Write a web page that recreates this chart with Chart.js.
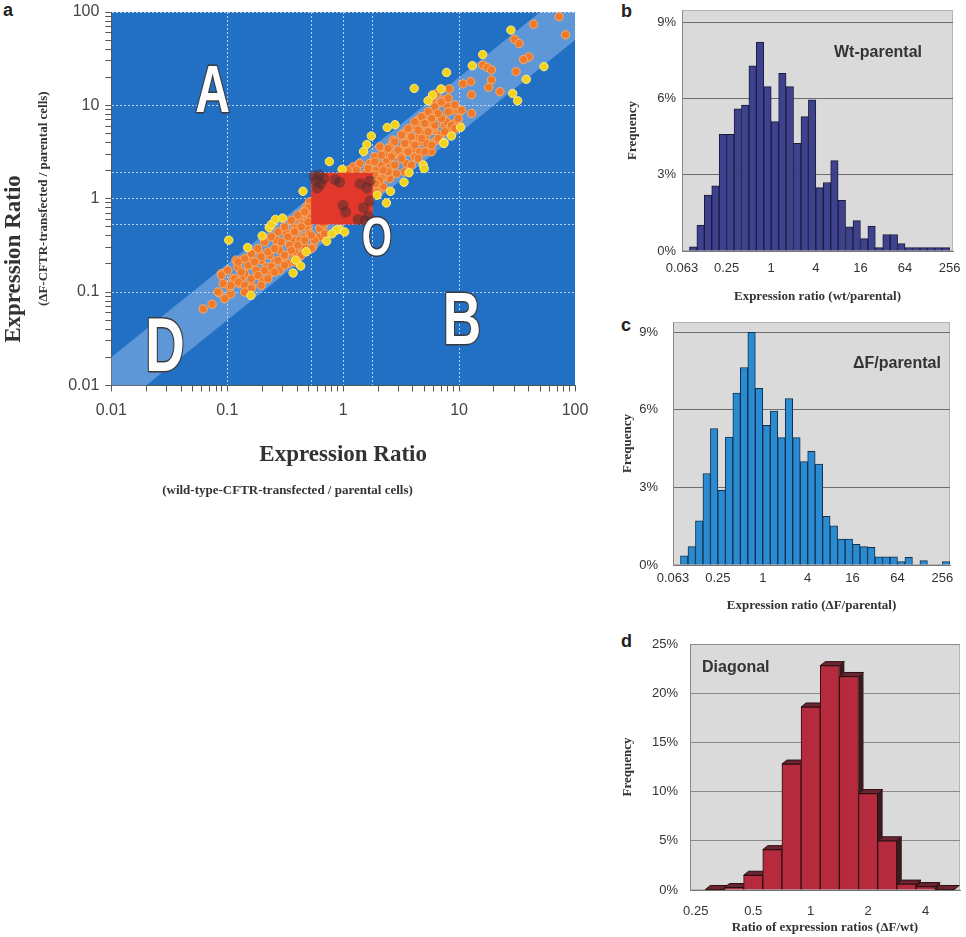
<!DOCTYPE html>
<html>
<head>
<meta charset="utf-8">
<script src="https://cdn.jsdelivr.net/npm/chart.js@4.4.0/dist/chart.umd.min.js"></script>
<style>
  body { margin: 0; background: #fff; width: 966px; height: 937px; position: relative; overflow: hidden; }
  canvas { position: absolute; }
  .tag { position: absolute; font: bold 18px 'Liberation Sans', Arial, sans-serif; color: #222; line-height: 1; }
  .cap { position: absolute; font: bold 16px 'Liberation Sans', Arial, sans-serif; color: #333; line-height: 1; white-space: nowrap; }
</style>
</head>
<body>
<div class="tag" style="left:3px;top:1px">a</div>
<div class="tag" style="left:621px;top:2px">b</div>
<div class="tag" style="left:621px;top:316px">c</div>
<div class="tag" style="left:621px;top:632px">d</div>

<canvas id="scatterChart" width="605" height="510" style="left:0;top:0"></canvas>
<canvas id="wtChart" width="346" height="310" style="left:620px;top:0"></canvas>
<canvas id="dfChart" width="346" height="310" style="left:620px;top:310px"></canvas>
<canvas id="diagChart" width="346" height="317" style="left:620px;top:620px"></canvas>

<div class="cap" style="left:834px;top:44px">Wt-parental</div>
<div class="cap" style="left:853px;top:355px">ΔF/parental</div>
<div class="cap" style="left:702px;top:659px">Diagonal</div>

<script>
// ---- panel a: scatter of expression ratios (wt on x, deltaF on y) ----
const axisTicks = [0.01, 0.1, 1, 10, 100];
const axisTickLabels = ['0.01', '0.1', '1', '10', '100'];
const squareX = [0.53, 1.8];   // unchanged-gene box, also dotted guide lines
const squareY = [0.53, 1.9];

// points inside the two-fold diagonal band (orange)
const bandPoints = [
  [73, 89], [83, 57], [44, 74], [30, 51], [33, 46], [40, 33], [36, 31], [31, 23], [16, 27], [17.5, 25.5],
  [19, 24], [12.6, 18], [10.8, 17], [19, 18.7], [18, 15.6], [22.5, 14], [12.8, 13], [8.2, 15], [10.3, 8.7],
  [12.8, 8.2], [10.1, 6.1],
  [3.3, 4.6], [3.6, 5.0], [4.0, 5.9], [4.4, 6.9], [4.9, 7.5], [5.4, 6.4], [6.0, 8.9], [6.6, 10.5], [7.3, 11.4],
  [8.0, 9.7], [8.9, 8.9], [9.8, 8.9], [6.8, 7.5], [7.5, 6.9], [8.3, 5.9], [6.0, 5.4], [5.2, 4.8], [4.6, 4.1],
  [4.0, 3.7], [3.5, 3.6], [3.2, 3.3], [6.4, 13.4], [5.8, 11.4], [4.6, 5.4], [3.75, 4.2], [6.8, 4.6], [5.6, 3.9],
  [8.0, 6.4],
  [1.93, 2.02], [2.14, 2.29], [2.36, 2.59], [2.52, 2.19], [2.70, 2.93], [2.98, 3.31], [3.18, 2.81], [3.40, 3.75],
  [3.75, 4.24], [4.01, 3.45], [4.43, 4.60], [4.89, 5.00], [5.23, 3.91], [5.59, 5.43], [6.17, 5.89], [6.82, 4.80],
  [7.53, 6.14], [8.32, 5.43], [9.19, 6.40], [2.52, 1.64], [2.88, 1.86], [2.21, 1.71], [2.00, 1.52], [2.28, 3.05],
  [2.07, 3.60], [1.87, 2.81], [1.69, 2.38], [1.59, 1.94], [3.51, 2.38], [4.15, 2.81], [4.58, 3.18], [6.38, 4.24],
  [5.78, 3.18], [7.79, 6.67], [4.29, 5.89], [3.29, 5.00], [2.70, 4.24], [2.52, 3.60], [1.93, 1.34], [2.21, 1.34],
  [2.0, 1.18], [1.22, 2.19], [1.39, 2.38], [1.30, 2.02], [1.10, 2.02],
  [1.87, 2.48], [2.14, 2.93], [2.44, 3.45], [2.79, 4.07], [3.18, 4.8], [3.63, 5.65], [4.15, 6.67], [4.74, 7.55],
  [5.41, 8.54], [6.17, 9.65], [7.05, 10.9], [8.05, 11.9], [9.19, 10.1], [8.05, 8.54], [7.05, 7.24], [6.17, 6.14],
  [5.41, 5.21], [4.74, 4.42], [4.15, 3.75], [3.63, 3.18], [3.18, 2.7], [2.79, 2.29], [2.44, 1.94], [2.14, 1.65],
  [3.40, 1.94], [3.88, 2.29], [4.43, 2.70], [5.06, 3.18], [5.78, 3.75], [6.6, 4.42], [7.53, 5.21], [8.6, 6.14],
  [9.82, 7.24], [10.5, 8.89], [1.87, 1.79], [1.64, 2.11], [2.61, 2.81], [3.40, 3.91], [3.88, 4.61], [4.43, 5.43],
  [5.06, 6.4], [5.78, 7.24], [6.6, 8.19], [9.19, 5.65], [2.07, 1.58], [1.93, 1.18], [2.21, 2.02], [1.9, 1.45],
  [0.369, 0.258], [0.421, 0.305], [0.381, 0.359], [0.465, 0.390], [0.407, 0.459], [0.497, 0.499], [0.450, 0.589],
  [0.513, 0.694], [0.481, 0.817], [0.513, 0.925], [0.548, 0.305], [0.627, 0.39], [0.67, 0.499],
  [0.45, 0.72], [0.5, 0.8], [0.42, 0.62], [0.52, 0.62], [0.48, 0.5], [0.38, 0.5], [0.35, 0.42],
  [0.062, 0.066], [0.074, 0.074], [0.085, 0.098], [0.107, 0.095], [0.089, 0.158], [0.101, 0.171], [0.112, 0.139],
  [0.128, 0.123], [0.146, 0.113], [0.161, 0.118], [0.123, 0.186], [0.141, 0.158], [0.156, 0.194], [0.178, 0.171],
  [0.196, 0.219], [0.217, 0.186], [0.232, 0.248], [0.256, 0.210], [0.283, 0.281], [0.312, 0.238], [0.345, 0.317],
  [0.381, 0.269], [0.421, 0.359], [0.465, 0.304], [0.514, 0.423], [0.568, 0.359], [0.627, 0.479], [0.692, 0.423],
  [0.232, 0.158], [0.184, 0.281], [0.265, 0.359], [0.323, 0.423], [0.394, 0.479], [0.450, 0.542], [0.283, 0.171],
  [0.203, 0.134], [0.119, 0.22], [0.092, 0.123], [0.105, 0.113], [0.132, 0.139], [0.166, 0.219], [0.334, 0.202],
  [0.421, 0.238], [0.670, 0.542],
  [0.089, 0.151], [0.116, 0.139], [0.132, 0.164], [0.151, 0.194], [0.172, 0.21], [0.196, 0.238], [0.224, 0.269],
  [0.256, 0.292], [0.292, 0.344], [0.334, 0.39], [0.381, 0.441], [0.435, 0.499], [0.497, 0.564], [0.407, 0.665],
  [0.465, 0.722], [0.357, 0.588], [0.312, 0.499], [0.274, 0.441], [0.24, 0.39], [0.21, 0.344], [0.184, 0.292],
  [0.161, 0.258], [0.141, 0.228], [0.124, 0.21], [0.108, 0.118], [0.124, 0.128], [0.141, 0.118], [0.161, 0.139],
  [0.184, 0.151], [0.21, 0.171], [0.24, 0.186], [0.274, 0.219], [0.312, 0.248], [0.357, 0.28], [0.407, 0.317],
  [0.465, 0.359], [0.531, 0.406], [0.531, 0.292], [0.435, 0.248], [0.381, 0.21], [0.312, 0.194], [0.256, 0.164],
  [0.224, 0.139], [0.196, 0.118], [0.161, 0.109], [0.141, 0.1], [0.083, 0.1], [0.095, 0.085]
];

// points outside the band (yellow)
const outlierPoints = [
  [28, 64], [16, 35], [54, 26], [38, 19], [29, 13.4], [32, 11.2], [7.8, 22.5], [13, 26.6], [4.1, 15.2], [7, 15],
  [5.9, 12.9], [5.4, 11.2], [8.6, 4.7], [10.3, 5.8], [7.4, 4.0], [4.9, 2.3], [5.0, 2.1],
  [2.4, 5.8], [2.8, 6.2], [1.75, 4.7], [1.6, 3.8], [1.5, 3.2], [0.76, 2.5], [0.98, 2.06], [0.45, 1.2], [7.4, 3.9],
  [3.7, 1.9], [3.35, 1.5], [2.56, 1.2], [1.96, 1.09], [2.36, 0.9], [0.93, 0.47], [1.03, 0.44], [0.87, 0.46],
  [0.8, 0.42],
  [0.103, 0.36], [0.15, 0.30], [0.2, 0.4], [0.23, 0.49], [0.24, 0.53], [0.26, 0.6], [0.3, 0.62], [0.48, 0.27],
  [0.39, 0.22], [0.43, 0.19], [0.37, 0.16], [0.16, 0.092], [0.72, 0.35]
];

// dark clumps showing through the red box
const boxPoints = [
  [0.56, 1.75], [0.62, 1.8], [0.58, 1.55], [0.68, 1.65], [0.64, 1.45], [0.6, 1.3], [0.85, 1.6], [0.93, 1.5],
  [1.4, 1.45], [1.6, 1.3], [1.7, 1.55], [1.5, 0.8], [1.65, 0.65], [1.35, 0.6], [1.7, 0.95], [1.55, 0.58],
  [1.0, 0.85], [1.05, 0.72]
];

// the two-fold band: y between x/2 and 2x
const bandEdge = [[0.001, 0.002], [1000, 2000], [1000, 500], [0.001, 0.0005]];

const quadrantLabels = [
  { text: 'A', x: 0.075, y: 15.3, size: 67 },
  { text: 'B', x: 10.6, y: 0.054, size: 74 },
  { text: 'O', x: 1.95, y: 0.406, size: 54 },
  { text: 'D', x: 0.029, y: 0.028, size: 76 }
];

// ---- panels b-d: histograms, bins one third of a log2 step wide ----
const log2Ticks = [-4, -2, 0, 2, 4, 6, 8];
const log2TickLabels = ['0.063', '0.25', '1', '4', '16', '64', '256'];
const percentTicks = [0, 3, 6, 9];

const wtFirstBin = -11;
const wtFreq = [0.16, 1.02, 2.2, 2.57, 4.6, 4.6, 5.6, 5.75, 7.3, 8.24, 6.48, 5.1, 7.0, 6.48, 4.24, 5.3, 5.96, 2.5,
  2.7, 3.56, 2.0, 0.95, 1.2, 0.49, 0.98, 0.13, 0.65, 0.65, 0.29, 0.13, 0.13, 0.13, 0.13, 0.13, 0.13];

const dfFirstBin = -11;
const dfFreq = [0.35, 0.71, 1.71, 3.54, 5.28, 2.89, 4.95, 6.65, 7.64, 9.0, 6.83, 5.4, 5.95, 4.93, 6.44, 4.93, 4.0,
  4.4, 3.9, 1.88, 1.52, 1.0, 1.0, 0.8, 0.71, 0.68, 0.32, 0.32, 0.32, 0.13, 0.3, 0, 0.17, 0, 0, 0.13];

const diagTicks = [-2, -1, 0, 1, 2];
const diagTickLabels = ['0.25', '0.5', '1', '2', '4'];
const diagPercentTicks = [0, 5, 10, 15, 20, 25];
const diagFirstBin = -5;
const diagFreq = [0.05, 0.25, 1.5, 4.1, 12.8, 18.6, 22.8, 21.7, 9.8, 5.0, 0.6, 0.35, 0.05];

const sansFont = "'Liberation Sans', Arial, sans-serif";
const serifFont = "'Liberation Serif', 'Times New Roman', serif";

// fills the plot area before anything else
const plotBg = {
  id: 'plotBg',
  beforeDraw(chart, args, opts) {
    const { ctx, chartArea: a } = chart;
    ctx.save();
    ctx.fillStyle = opts.color;
    ctx.fillRect(a.left, a.top, a.width, a.height);
    if (opts.border) {
      ctx.strokeStyle = opts.border;
      ctx.lineWidth = 1;
      ctx.strokeRect(a.left + 0.5, a.top + 0.5, a.width - 1, a.height - 1);
    }
    ctx.restore();
  }
};

// big A / B / O / D region letters
const quadLetters = {
  id: 'quadLetters',
  afterDatasetsDraw(chart) {
    const { ctx, scales: { x, y } } = chart;
    quadrantLabels.forEach(q => {
      const px = x.getPixelForValue(q.x);
      const py = y.getPixelForValue(q.y);
      ctx.save();
      ctx.translate(px, py);
      ctx.scale(0.72, 1);
      ctx.font = 'bold ' + q.size + 'px ' + sansFont;
      ctx.textAlign = 'center';
      ctx.textBaseline = 'alphabetic';
      ctx.lineJoin = 'round';
      ctx.lineWidth = 3;
      ctx.strokeStyle = '#3a3a3a';
      ctx.strokeText(q.text, 0, q.size * 0.36);
      ctx.fillStyle = '#fdfdfd';
      ctx.fillText(q.text, 0, q.size * 0.36);
      ctx.restore();
    });
  }
};

// side and top faces that give panel d its 3-D look
const bar3d = {
  id: 'bar3d',
  beforeDatasetsDraw(chart) {
    const ctx = chart.ctx;
    const dx = 5, dy = 4;
    chart.getDatasetMeta(0).data.forEach(bar => {
      const { x, y, base, width } = bar.getProps(['x', 'y', 'base', 'width'], true);
      const l = x - width / 2, r = x + width / 2;
      ctx.save();
      ctx.fillStyle = '#3b1a1e';
      ctx.beginPath();
      ctx.moveTo(r, y); ctx.lineTo(r + dx, y - dy); ctx.lineTo(r + dx, base - dy); ctx.lineTo(r, base);
      ctx.closePath(); ctx.fill();
      ctx.fillStyle = '#6a2530';
      ctx.strokeStyle = '#2a0f12';
      ctx.beginPath();
      ctx.moveTo(l, y); ctx.lineTo(l + dx, y - dy); ctx.lineTo(r + dx, y - dy); ctx.lineTo(r, y);
      ctx.closePath(); ctx.fill(); ctx.stroke();
      ctx.restore();
    });
  }
};

const minorTicks = [];
for (let d = 0.01; d < 100; d *= 10) {
  for (let m = 2; m <= 9; m++) minorTicks.push(+(d * m).toPrecision(3));
}

function logTicks(guides) {
  return axis => {
    const vals = axisTicks.concat(minorTicks, guides);
    axis.ticks = vals.map(v => ({ value: v }));
  };
}

function gridColor(guides) {
  return ctx => {
    const v = ctx.tick && ctx.tick.value;
    if (axisTicks.includes(v) || guides.includes(v)) return 'rgba(235,242,255,0.75)';
    return 'rgba(0,0,0,0)';
  };
}

function tickMarkColor(guides) {
  return ctx => {
    const v = ctx.tick && ctx.tick.value;
    return guides.includes(v) ? 'rgba(0,0,0,0)' : '#555';
  };
}

const toXY = p => ({ x: p[0], y: p[1] });

new Chart(document.getElementById('scatterChart'), {
  type: 'scatter',
  data: {
    datasets: [
      {
        label: 'Box clumps',
        data: boxPoints.map(toXY),
        backgroundColor: 'rgba(75,45,45,0.5)',
        borderWidth: 0,
        pointRadius: 5.5
      },
      {
        label: 'Unchanged',
        data: [[squareX[0], squareY[0]], [squareX[0], squareY[1]], [squareX[1], squareY[1]], [squareX[1], squareY[0]]].map(toXY),
        showLine: true,
        fill: 'shape',
        backgroundColor: '#e2372b',
        borderColor: '#e2372b',
        borderWidth: 0,
        pointRadius: 0
      },
      {
        label: 'Outside band',
        data: outlierPoints.map(toXY),
        backgroundColor: '#f3d21c',
        borderColor: '#fbeb8a',
        borderWidth: 1,
        pointRadius: 4.2
      },
      {
        label: 'Inside band',
        data: bandPoints.map(toXY),
        backgroundColor: '#ef7a2c',
        borderColor: '#f7ad6e',
        borderWidth: 1,
        pointRadius: 4.2
      },
      {
        label: 'Two-fold band',
        data: bandEdge.map(toXY),
        showLine: true,
        fill: 'shape',
        backgroundColor: 'rgba(215,230,255,0.33)',
        borderWidth: 0,
        pointRadius: 0
      }
    ]
  },
  options: {
    responsive: false,
    animation: false,
    layout: { padding: { left: 0, right: 30, top: 12, bottom: 4 } },
    plugins: {
      legend: { display: false },
      tooltip: { enabled: false },
      title: {
        display: true,
        position: 'left',
        text: 'Expression Ratio',
        color: '#333',
        font: { family: serifFont, size: 23, weight: 'bold' },
        padding: { top: 0, bottom: 4 }
      },
      subtitle: {
        display: true,
        position: 'bottom',
        text: '(wild-type-CFTR-transfected / parental cells)',
        color: '#333',
        font: { family: serifFont, size: 13, weight: 'bold' },
        padding: { top: 8, bottom: 8 }
      },
      plotBg: { color: '#2170c4' }
    },
    scales: {
      x: {
        type: 'logarithmic',
        min: 0.01,
        max: 100,
        afterBuildTicks: logTicks(squareX),
        afterFit: s => { s.height = 89; },
        ticks: {
          autoSkip: false,
          maxRotation: 0,
          color: '#444',
          font: { family: sansFont, size: 16 },
          padding: 10,
          callback: v => { const i = axisTicks.indexOf(v); return i >= 0 ? axisTickLabels[i] : ''; }
        },
        grid: {
          color: gridColor(squareX),
          tickColor: tickMarkColor(squareX),
          tickLength: 6,
          tickBorderDash: [],
          lineWidth: 1
        },
        border: { display: true, color: '#555', dash: [2, 2] },
        title: {
          display: true,
          text: 'Expression Ratio',
          color: '#333',
          font: { family: serifFont, size: 23, weight: 'bold' },
          padding: { top: 6, bottom: 6 }
        }
      },
      y: {
        type: 'logarithmic',
        min: 0.01,
        max: 100,
        afterBuildTicks: logTicks(squareY),
        afterFit: s => { s.paddingTop = 0; s.paddingBottom = 0; },
        ticks: {
          autoSkip: false,
          color: '#444',
          font: { family: sansFont, size: 16 },
          padding: 6,
          callback: v => { const i = axisTicks.indexOf(v); return i >= 0 ? axisTickLabels[i] : ''; }
        },
        grid: {
          color: gridColor(squareY),
          tickColor: tickMarkColor(squareY),
          tickLength: 6,
          tickBorderDash: [],
          lineWidth: 1
        },
        border: { display: true, color: '#555', dash: [2, 2] },
        title: {
          display: true,
          text: '(ΔF-CFTR-transfected / parental cells)',
          color: '#333',
          font: { family: serifFont, size: 13, weight: 'bold' },
          padding: { top: 4, bottom: 11 }
        }
      }
    }
  },
  plugins: [plotBg, quadLetters]
});

function binData(firstBin, freq) {
  return freq.map((f, i) => ({ x: (firstBin + i + 0.5) / 3, y: f }));
}

// o.yWidth / o.xHeight pin the axis boxes so the plot area lands where the figure has it
function histOptions(o) {
  return {
    responsive: false,
    animation: false,
    layout: { padding: o.padding },
    plugins: {
      legend: { display: false },
      tooltip: { enabled: false },
      plotBg: { color: '#dadada', border: '#b5b5b5' }
    },
    scales: {
      x: {
        type: 'linear',
        min: o.xMin,
        max: o.xMax,
        offset: false,
        afterBuildTicks: axis => { axis.ticks = o.ticks.map(v => ({ value: v })); },
        afterFit: s => { s.height = o.xHeight; s.paddingLeft = 0; s.paddingRight = 0; },
        ticks: {
          autoSkip: false,
          maxRotation: 0,
          color: '#333',
          font: { family: sansFont, size: 13 },
          padding: o.xTickPad,
          callback: v => { const i = o.ticks.indexOf(v); return i >= 0 ? o.tickLabels[i] : ''; }
        },
        grid: { display: false, drawTicks: false },
        border: { display: true, color: '#777' },
        title: {
          display: true,
          text: o.xTitle,
          color: '#333',
          font: { family: serifFont, size: 13, weight: 'bold' },
          padding: { top: o.xTitlePad, bottom: o.xTitlePad }
        }
      },
      y: {
        min: 0,
        max: o.yMax,
        afterBuildTicks: axis => { axis.ticks = o.yTicks.map(v => ({ value: v })); },
        afterFit: s => { s.width = o.yWidth; s.paddingTop = 0; s.paddingBottom = 0; },
        ticks: {
          color: '#333',
          font: { family: sansFont, size: 13 },
          padding: o.yTickPad,
          callback: v => v + '%'
        },
        grid: {
          color: o.gridColor,
          drawTicks: false
        },
        border: { display: true, color: '#888' },
        title: {
          display: true,
          text: 'Frequency',
          color: '#333',
          font: { family: serifFont, size: 13, weight: 'bold' },
          padding: { top: o.yTitlePad, bottom: 0 }
        }
      }
    }
  };
}

new Chart(document.getElementById('wtChart'), {
  type: 'bar',
  data: {
    datasets: [{
      label: 'Wt-parental',
      data: binData(wtFirstBin, wtFreq),
      backgroundColor: '#3d418e',
      borderColor: '#1b1c3a',
      borderWidth: 1,
      barPercentage: 1,
      categoryPercentage: 1
    }]
  },
  options: histOptions({
    padding: { left: 0, right: 13, top: 10, bottom: 0 },
    xMin: -4, xMax: 8.15, ticks: log2Ticks, tickLabels: log2TickLabels,
    xTitle: 'Expression ratio (wt/parental)', xHeight: 59, xTickPad: 10, xTitlePad: 6,
    yMax: 9.5, yTicks: percentTicks, gridColor: '#6e6e6e', yWidth: 62, yTickPad: 6, yTitlePad: 5
  }),
  plugins: [plotBg]
});

new Chart(document.getElementById('dfChart'), {
  type: 'bar',
  data: {
    datasets: [{
      label: 'ΔF/parental',
      data: binData(dfFirstBin, dfFreq),
      backgroundColor: '#2b8bd2',
      borderColor: '#10304a',
      borderWidth: 1,
      barPercentage: 1,
      categoryPercentage: 1
    }]
  },
  options: histOptions({
    padding: { left: 0, right: 16, top: 12, bottom: 0 },
    xMin: -4, xMax: 8.34, ticks: log2Ticks, tickLabels: log2TickLabels,
    xTitle: 'Expression ratio (ΔF/parental)', xHeight: 55, xTickPad: 6, xTitlePad: 7,
    yMax: 9.4, yTicks: percentTicks, gridColor: '#6e6e6e', yWidth: 53, yTickPad: 15, yTitlePad: 0
  }),
  plugins: [plotBg]
});

new Chart(document.getElementById('diagChart'), {
  type: 'bar',
  data: {
    datasets: [{
      label: 'Diagonal',
      data: diagFreq.map((f, i) => ({ x: (diagFirstBin + i) / 3, y: f })),
      backgroundColor: '#b52a3c',
      borderColor: '#2a0f12',
      borderWidth: 1,
      barPercentage: 1,
      categoryPercentage: 1
    }]
  },
  options: histOptions({
    padding: { left: 0, right: 6, top: 24, bottom: 0 },
    xMin: -2.1, xMax: 2.6, ticks: diagTicks, tickLabels: diagTickLabels,
    xTitle: 'Ratio of expression ratios (ΔF/wt)', xHeight: 47, xTickPad: 14, xTitlePad: 2,
    yMax: 25, yTicks: diagPercentTicks, gridColor: '#8a8a8a', yWidth: 70, yTickPad: 12, yTitlePad: 0
  }),
  plugins: [plotBg, bar3d]
});
</script>
</body>
</html>
